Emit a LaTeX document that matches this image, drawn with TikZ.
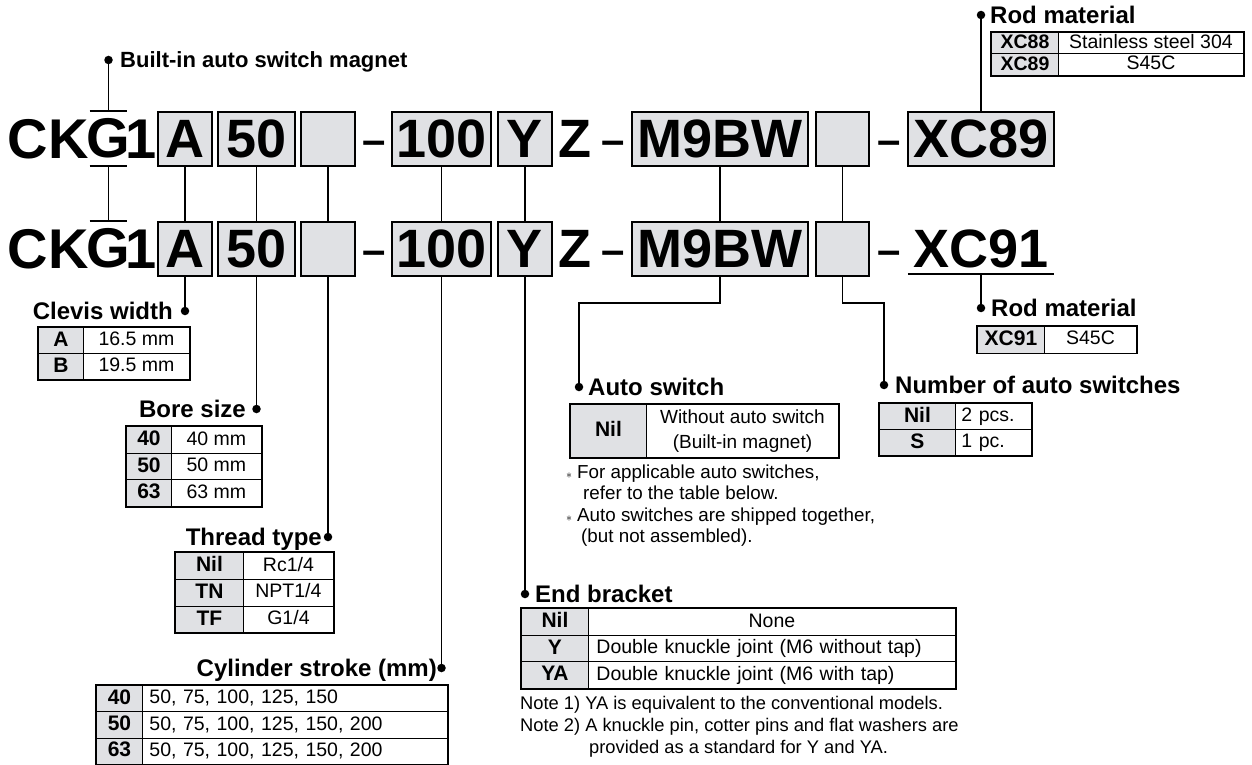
\documentclass[tikz,border=0pt]{standalone}
\usepackage{fontspec}
\setmainfont{Liberation Sans}
\usepackage{tikz}
\usetikzlibrary{positioning}
\usepackage{xcolor}
\definecolor{boxgray}{RGB}{224,225,228}

\begin{document}
\begin{tikzpicture}[x=1pt, y=-1pt,
    code/.style={inner sep=0pt, font=\fontsize{54}{54}\selectfont\bfseries},
    bigcode/.style={inner sep=0pt, font=\fontsize{56}{56}\selectfont\bfseries},
    codebox/.style={draw, line width=1.5pt, fill=boxgray, inner sep=0pt, minimum height=54pt, font=\fontsize{54}{54}\selectfont\bfseries},
    minus/.style={inner sep=0pt, anchor=base, font=\fontsize{42}{42}\selectfont\bfseries},
    dotn/.style={circle, fill=black, inner sep=0pt, minimum size=8.5pt},
    head/.style={inner sep=0pt, font=\fontsize{24}{24}\selectfont\bfseries},
    keycell/.style={draw, line width=0.9pt, fill=boxgray, inner sep=0pt, anchor=north west, text height=15pt, text depth=3.5pt, font=\fontsize{21}{24}\selectfont\bfseries},
    valcell/.style={draw, line width=0.9pt, fill=white, inner sep=0pt, anchor=north west, text height=14pt, text depth=3.5pt, font=\fontsize{19.5}{23}\selectfont},
    note/.style={inner sep=0pt, anchor=base west, font=\fontsize{18.8}{22}\selectfont},
    conn/.style={line width=1.6pt},
    frame/.style={line width=1.6pt}]
    \useasboundingbox (0,0) rectangle (1252,765);

    % Kod - wiersz 1
    \node[bigcode, anchor=east] (ck1) at (89,139) {CK};
    \node[bigcode, minimum height=55pt] (g1) at (108.5,138.5) {G};
    \node[bigcode, anchor=west] (one1) at (125,139) {1};
    \node[codebox, minimum width=54pt] (a1) at (185,139) {A};
    \node[codebox, minimum width=77pt] (bore1) at (256.5,139) {50};
    \node[codebox, minimum width=54pt] (thr1) at (328,139) {};
    \node[minus] (m11) at (374.5,154) {–};
    \node[codebox, minimum width=99pt] (str1) at (441.5,139) {100};
    \node[codebox, minimum width=54pt] (y1) at (525,139) {Y};
    \node[code] (z1) at (574.5,139) {Z};
    \node[minus] (m12) at (613.5,154) {–};
    \node[codebox, minimum width=176pt] (sw1) at (720,139) {M9BW};
    \node[codebox, minimum width=53pt] (num1) at (842.5,139) {};
    \node[minus] (m13) at (889,154) {–};
    \node[codebox, minimum width=146pt] (xc1) at (981,139) {XC89};

    % Kod - wiersz 2
    \node[bigcode, anchor=east] (ck2) at (89,249) {CK};
    \node[bigcode, minimum height=55pt] (g2) at (108.5,248.5) {G};
    \node[bigcode, anchor=west] (one2) at (125,249) {1};
    \node[codebox, minimum width=54pt] (a2) at (185,249) {A};
    \node[codebox, minimum width=77pt] (bore2) at (256.5,249) {50};
    \node[codebox, minimum width=54pt] (thr2) at (328,249) {};
    \node[minus] (m21) at (374.5,264) {–};
    \node[codebox, minimum width=99pt] (str2) at (441.5,249) {100};
    \node[codebox, minimum width=54pt] (y2) at (525,249) {Y};
    \node[code] (z2) at (574.5,249) {Z};
    \node[minus] (m22) at (613.5,264) {–};
    \node[codebox, minimum width=176pt] (sw2) at (720,249) {M9BW};
    \node[codebox, minimum width=53pt] (num2) at (842.5,249) {};
    \node[minus] (m23) at (889,264) {–};
    \node[code, minimum width=146pt, minimum height=50pt] (xc2) at (981,249) {XC91};

    % Kreski przy G i podkreslenie
    \draw[conn] ([xshift=3pt]g1.north west) -- ([xshift=-3pt]g1.north east);
    \draw[conn] ([xshift=3pt]g1.south west) -- ([xshift=-3pt]g1.south east);
    \draw[conn] ([xshift=3pt]g2.north west) -- ([xshift=-3pt]g2.north east);
    \draw[conn] (xc2.south west) -- (xc2.south east);

    % Kropki
    \node[dotn] (magdot) at (108.5,60) {};
    \node[dotn] (rod1dot) at (981,15) {};
    \node[dotn] (cwdot) at (185,311) {};
    \node[dotn] (boredot) at (256.5,409) {};
    \node[dotn] (thrdot) at (328,537) {};
    \node[dotn] (strdot) at (441.5,668) {};
    \node[dotn] (ebdot) at (525,594) {};
    \node[dotn] (swdot) at (579,387) {};
    \node[dotn] (numdot) at (884,385) {};
    \node[dotn] (rod2dot) at (981,308) {};

    % Opisy
    \node[head, anchor=base west, font=\fontsize{22}{22}\selectfont\bfseries] (maglab) at (120,68) {Built-in auto switch magnet};
    \node[head, anchor=base west] (rod1lab) at (990,23.5) {Rod material};
    \node[head, anchor=base east] (cwlab) at (173,319.5) {Clevis width};
    \node[head, anchor=base east] (borelab) at (246,417.5) {Bore size};
    \node[head, anchor=base east] (thrlab) at (322,545.5) {Thread type};
    \node[head, anchor=base east] (strlab) at (437,676.5) {Cylinder stroke (mm)};
    \node[head, anchor=base west] (swlab) at (588,395.5) {Auto switch};
    \node[head, anchor=base west] (numlab) at (895,393.5) {Number of auto switches};
    \node[head, anchor=base west] (rod2lab) at (991,316.5) {Rod material};
    \node[head, anchor=base west] (eblab) at (535,602.5) {End bracket};

    % Polaczenia
    \draw[conn] (magdot) -- (g1.north);
    \draw[conn] (g1.south) -- (g2.north);
    \draw[conn] (a1) -- (a2);
    \draw[conn] (bore1) -- (bore2);
    \draw[conn] (thr1) -- (thr2);
    \draw[conn] (str1) -- (str2);
    \draw[conn] (y1) -- (y2);
    \draw[conn] (sw1) -- (sw2);
    \draw[conn] (num1) -- (num2);
    \draw[conn] (xc1.north) -- (rod1dot);
    \draw[conn] (xc2.south) -- (rod2dot);
    \draw[conn] (a2.south) -- (cwdot);
    \draw[conn] (bore2.south) -- (boredot);
    \draw[conn] (thr2.south) -- (thrdot);
    \draw[conn] (str2.south) -- (strdot);
    \draw[conn] (y2.south) -- (ebdot);
    \coordinate (swbend) at (720,303);
    \coordinate (numbend) at (842.5,303);
    \draw[conn] (sw2.south) -- (swbend) -| (swdot);
    \draw[conn] (num2.south) -- (numbend) -| (numdot);

    % Tabela: Rod material (gora)
    \node[keycell, minimum width=67pt, minimum height=21.5pt, font=\fontsize{19.5}{22}\selectfont\bfseries] (r1k1) at (991,32) {XC88};
    \node[valcell, minimum width=185pt, minimum height=21.5pt] (r1v1) at (1058,32) {Stainless steel 304};
    \node[keycell, minimum width=67pt, minimum height=21.5pt, font=\fontsize{19.5}{22}\selectfont\bfseries] (r1k2) at (991,53.5) {XC89};
    \node[valcell, minimum width=185pt, minimum height=21.5pt] (r1v2) at (1058,53.5) {S45C};
    \draw[frame] (r1k1.north west) rectangle (r1v2.south east);

    % Tabela: Rod material (dol)
    \node[keycell, minimum width=67pt, minimum height=26.5pt] (r2k1) at (977,326) {XC91};
    \node[valcell, minimum width=92pt, minimum height=26.5pt] (r2v1) at (1044,326) {S45C};
    \draw[frame] (r2k1.north west) rectangle (r2v1.south east);

    % Tabela: Clevis width
    \node[keycell, minimum width=45pt, minimum height=26pt] (cwk1) at (38,327) {A};
    \node[valcell, minimum width=106pt, minimum height=26pt] (cwv1) at (83,327) {16.5 mm};
    \node[keycell, minimum width=45pt, minimum height=26pt] (cwk2) at (38,353) {B};
    \node[valcell, minimum width=106pt, minimum height=26pt] (cwv2) at (83,353) {19.5 mm};
    \draw[frame] (cwk1.north west) rectangle (cwv2.south east);

    % Tabela: Bore size
    \node[keycell, minimum width=45pt, minimum height=26.7pt] (bsk1) at (126,426) {40};
    \node[valcell, minimum width=90pt, minimum height=26.7pt] (bsv1) at (171,426) {40 mm};
    \node[keycell, minimum width=45pt, minimum height=26.7pt] (bsk2) at (126,452.7) {50};
    \node[valcell, minimum width=90pt, minimum height=26.7pt] (bsv2) at (171,452.7) {50 mm};
    \node[keycell, minimum width=45pt, minimum height=26.7pt] (bsk3) at (126,479.4) {63};
    \node[valcell, minimum width=90pt, minimum height=26.7pt] (bsv3) at (171,479.4) {63 mm};
    \draw[frame] (bsk1.north west) rectangle (bsv3.south east);

    % Tabela: Thread type
    \node[keycell, minimum width=68pt, minimum height=26.8pt] (ttk1) at (175,552) {Nil};
    \node[valcell, minimum width=90pt, minimum height=26.8pt] (ttv1) at (243,552) {Rc1/4};
    \node[keycell, minimum width=68pt, minimum height=26.8pt] (ttk2) at (175,578.8) {TN};
    \node[valcell, minimum width=90pt, minimum height=26.8pt] (ttv2) at (243,578.8) {NPT1/4};
    \node[keycell, minimum width=68pt, minimum height=26.8pt] (ttk3) at (175,605.6) {TF};
    \node[valcell, minimum width=90pt, minimum height=26.8pt] (ttv3) at (243,605.6) {G1/4};
    \draw[frame] (ttk1.north west) rectangle (ttv3.south east);

    % Tabela: Cylinder stroke
    \node[keycell, minimum width=46pt, minimum height=26.3pt] (csk1) at (96,685) {40};
    \node[valcell, minimum width=305pt, minimum height=26.3pt, text width=291pt, inner xsep=7pt, align=left] (csv1) at (142,685) {50, 75, 100, 125, 150};
    \node[keycell, minimum width=46pt, minimum height=26.3pt] (csk2) at (96,711.3) {50};
    \node[valcell, minimum width=305pt, minimum height=26.3pt, text width=291pt, inner xsep=7pt, align=left] (csv2) at (142,711.3) {50, 75, 100, 125, 150, 200};
    \node[keycell, minimum width=46pt, minimum height=26.3pt] (csk3) at (96,737.6) {63};
    \node[valcell, minimum width=305pt, minimum height=26.3pt, text width=291pt, inner xsep=7pt, align=left] (csv3) at (142,737.6) {50, 75, 100, 125, 150, 200};
    \draw[frame] (csk1.north west) rectangle (csv3.south east);

    % Tabela: Auto switch
    \node[keycell, minimum width=76pt, minimum height=53pt] (ask1) at (570,404) {Nil};
    \node[valcell, minimum width=192pt, minimum height=53pt, text height=, text depth=, align=center, font=\fontsize{19}{24.5}\selectfont] (asv1) at (646,404) {Without auto switch\\(Built-in magnet)};
    \draw[frame] (ask1.north west) rectangle (asv1.south east);
    \node[note] (asn1) at (566,478) {{\fontsize{12}{12}\selectfont$\ast$}\hspace{5pt}For applicable auto switches,};
    \node[note] (asn2) at (583,499) {refer to the table below.};
    \node[note] (asn3) at (566,521) {{\fontsize{12}{12}\selectfont$\ast$}\hspace{5pt}Auto switches are shipped together,};
    \node[note] (asn4) at (581,542) {(but not assembled).};

    % Tabela: Number of auto switches
    \node[keycell, minimum width=76pt, minimum height=26pt] (nsk1) at (879,403) {Nil};
    \node[valcell, minimum width=76pt, minimum height=26pt, text width=64pt, inner xsep=6pt, align=left] (nsv1) at (955,403) {2 pcs.};
    \node[keycell, minimum width=76pt, minimum height=26pt] (nsk2) at (879,429) {S};
    \node[valcell, minimum width=76pt, minimum height=26pt, text width=64pt, inner xsep=6pt, align=left] (nsv2) at (955,429) {1 pc.};
    \draw[frame] (nsk1.north west) rectangle (nsv2.south east);

    % Tabela: End bracket
    \node[keycell, minimum width=67pt, minimum height=26.7pt] (ebk1) at (521,608) {Nil};
    \node[valcell, minimum width=367pt, minimum height=26.7pt] (ebv1) at (588,608) {None};
    \node[keycell, minimum width=67pt, minimum height=26.7pt] (ebk2) at (521,634.7) {Y};
    \node[valcell, minimum width=367pt, minimum height=26.7pt, text width=351pt, inner xsep=8pt, align=left] (ebv2) at (588,634.7) {Double knuckle joint (M6 without tap)};
    \node[keycell, minimum width=67pt, minimum height=26.7pt] (ebk3) at (521,661.4) {YA};
    \node[valcell, minimum width=367pt, minimum height=26.7pt, text width=351pt, inner xsep=8pt, align=left] (ebv3) at (588,661.4) {Double knuckle joint (M6 with tap)};
    \draw[frame] (ebk1.north west) rectangle (ebv3.south east);
    \node[note, font=\fontsize{18.3}{22}\selectfont] (ebn1) at (520,709.5) {Note 1) YA is equivalent to the conventional models.};
    \node[note, font=\fontsize{18.3}{22}\selectfont] (ebn2) at (520,731.5) {Note 2) A knuckle pin, cotter pins and flat washers are};
    \node[note, font=\fontsize{18.3}{22}\selectfont] (ebn3) at (589,753) {provided as a standard for Y and YA.};
\end{tikzpicture}
\end{document}
